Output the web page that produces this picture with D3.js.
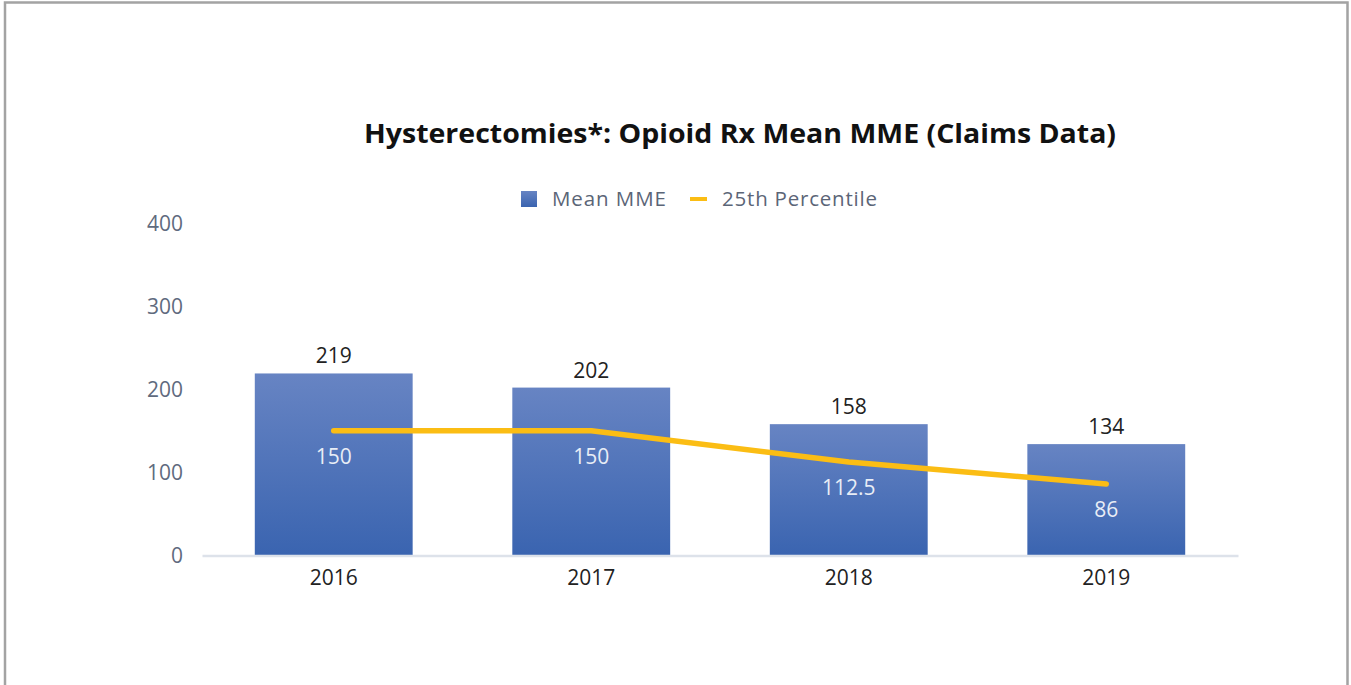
<!DOCTYPE html>
<html>
<head>
<meta charset="utf-8">
<script src="https://cdn.jsdelivr.net/npm/d3@7"></script>
<style>
  html, body { margin: 0; padding: 0; background: #fff; }
  svg { display: block; }
  text { font-family: "Open Sans", Lato, sans-serif; }
</style>
</head>
<body>
<svg id="chart" width="1351" height="685"></svg>
<script>
// Chart data
const years = ["2016", "2017", "2018", "2019"];
const meanMME = [219, 202, 158, 134];
const percentile25 = [150, 150, 112.5, 86];
const yTicks = [0, 100, 200, 300, 400];
const seriesNames = ["Mean MME", "25th Percentile"];
const titleText = "Hysterectomies*: Opioid Rx Mean MME (Claims Data)";

const W = 1351, H = 685;
const margin = { left: 202, right: 113, top: 223, bottom: 129 };
const svg = d3.select("#chart");

// Frame around the chart area
svg.append("path")
  .attr("d", `M5,${H} L5,2.5 L1347.5,2.5 L1347.5,${H}`)
  .attr("fill", "none")
  .attr("stroke", "#a3a3a3")
  .attr("stroke-width", 2.5);

const x = d3.scaleBand()
  .domain(years)
  .range([margin.left, W - margin.right])
  .paddingInner(0.387)
  .paddingOuter(0.205);

const y = d3.scaleLinear()
  .domain([0, 400])
  .range([H - margin.bottom - 0.5, margin.top]);

// Vertical gradient for the bars
const defs = svg.append("defs");
const grad = defs.append("linearGradient")
  .attr("id", "barGrad")
  .attr("x1", 0).attr("y1", 0).attr("x2", 0).attr("y2", 1);
grad.append("stop").attr("offset", "0%").attr("stop-color", "#6784c3");
grad.append("stop").attr("offset", "100%").attr("stop-color", "#3a64b0");

// Title
svg.append("text")
  .attr("x", 740).attr("y", 143)
  .attr("text-anchor", "middle")
  .attr("font-size", 27.5)
  .attr("font-weight", 700)
  .attr("fill", "#111")
  .attr("textLength", 752)
  .attr("lengthAdjust", "spacingAndGlyphs")
  .text(titleText);

// Legend
const legend = svg.append("g").attr("transform", "translate(0,199)");
legend.append("rect")
  .attr("x", 521).attr("y", -8).attr("width", 16).attr("height", 16)
  .attr("fill", "url(#barGrad)");
legend.append("text")
  .attr("x", 552).attr("y", 7)
  .attr("font-size", 20.5).attr("fill", "#5b6577")
  .attr("textLength", 114)
  .text(seriesNames[0]);
legend.append("line")
  .attr("x1", 690).attr("x2", 707).attr("y1", 0).attr("y2", 0)
  .attr("stroke", "#fbbd14").attr("stroke-width", 4);
legend.append("text")
  .attr("x", 722).attr("y", 7)
  .attr("font-size", 20.5).attr("fill", "#5b6577")
  .attr("textLength", 155)
  .text(seriesNames[1]);

// Y axis labels (no axis line)
const yAxis = svg.append("g")
  .attr("transform", `translate(${margin.left - 19},0)`)
  .call(d3.axisLeft(y).tickValues(yTicks).tickSize(0).tickPadding(0));
yAxis.select(".domain").remove();
yAxis.selectAll("text")
  .attr("font-size", 21)
  .attr("fill", "#5f6b7e")
  .attr("dy", "0.35em");

// Bars
svg.append("g").selectAll("rect")
  .data(years)
  .join("rect")
  .attr("x", d => x(d))
  .attr("y", (d, i) => y(meanMME[i]))
  .attr("width", x.bandwidth())
  .attr("height", (d, i) => y(0) - y(meanMME[i]))
  .attr("fill", "url(#barGrad)");

// X axis baseline and labels
const xAxis = svg.append("g")
  .attr("transform", `translate(0,${y(0)})`)
  .call(d3.axisBottom(x).tickSize(0).tickPadding(15));
xAxis.select(".domain")
  .attr("stroke", "#dde2ea")
  .attr("stroke-width", 2.5);
xAxis.selectAll("text")
  .attr("font-size", 21)
  .attr("fill", "#222")
  .attr("dy", "0.71em");

// Bar value labels
svg.append("g").selectAll("text")
  .data(years)
  .join("text")
  .attr("x", d => x(d) + x.bandwidth() / 2)
  .attr("y", (d, i) => y(meanMME[i]) - 10)
  .attr("text-anchor", "middle")
  .attr("font-size", 21)
  .attr("fill", "#222")
  .text((d, i) => meanMME[i]);

// 25th percentile line
const line = d3.line()
  .x((d, i) => x(years[i]) + x.bandwidth() / 2)
  .y(d => y(d));
svg.append("path")
  .datum(percentile25)
  .attr("d", line)
  .attr("fill", "none")
  .attr("stroke", "#fbbd14")
  .attr("stroke-width", 5.5)
  .attr("stroke-linecap", "round")
  .attr("stroke-linejoin", "round");

// Line value labels
svg.append("g").selectAll("text")
  .data(years)
  .join("text")
  .attr("x", d => x(d) + x.bandwidth() / 2)
  .attr("y", (d, i) => y(percentile25[i]) + 33)
  .attr("text-anchor", "middle")
  .attr("font-size", 21)
  .attr("fill", "#e8edf6")
  .text((d, i) => percentile25[i]);
</script>
</body>
</html>
